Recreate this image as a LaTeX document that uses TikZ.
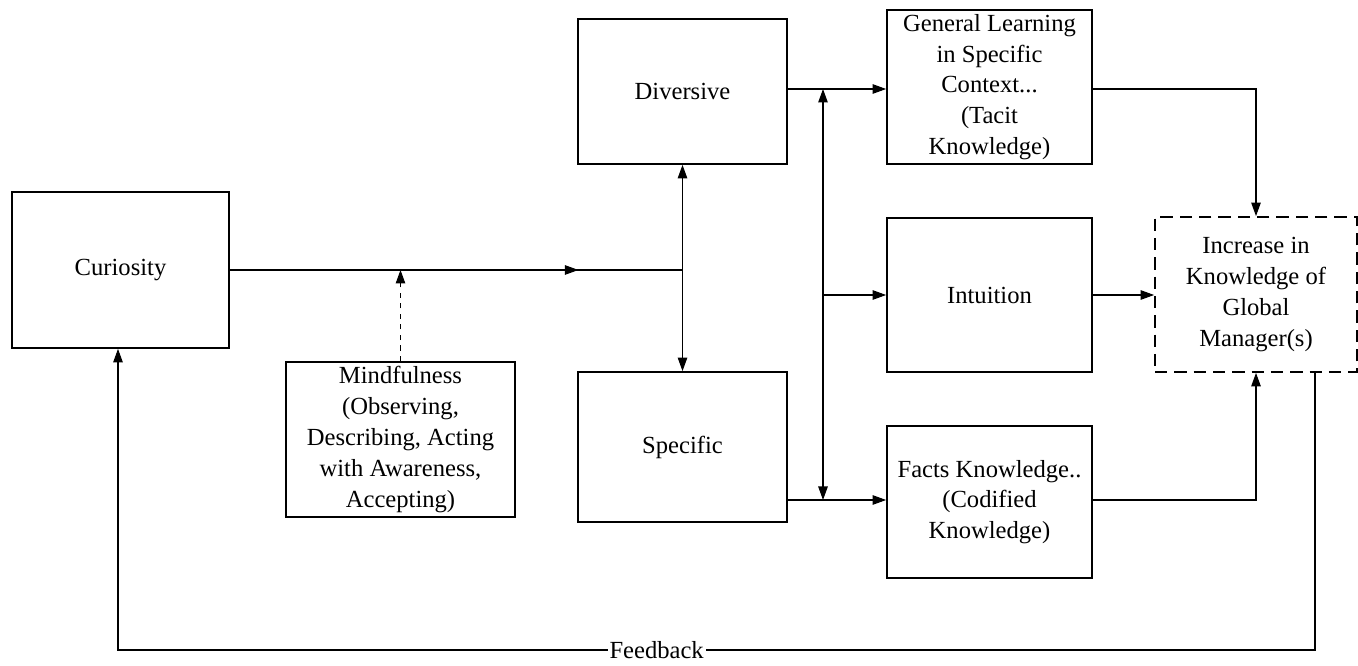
\documentclass[tikz,border=0pt]{standalone}
\usepackage{fontspec}
\setmainfont{Liberation Serif}
\usetikzlibrary{arrows.meta,positioning}

\begin{document}
\begin{tikzpicture}[
  every node/.style={font=\fontsize{14}{17.5}\selectfont},
  box/.style={draw, line width=1pt, minimum width=4.15cm, minimum height=3.05cm, align=center, inner sep=2pt},
  conn/.style={line width=0.6pt},
  tip/.style={-{Triangle[length=0.27cm,width=0.19cm]}}
]
  \useasboundingbox (0,0) rectangle (27.16,-13.32);
  % boxes
  \node[box, minimum width=4.34cm, minimum height=3.12cm] (curiosity) at (2.41,-5.4) {Curiosity};
  \node[box, minimum width=4.58cm, minimum height=3.1cm] (mindful) at (8.01,-8.79)
    {Mindfulness\\(Observing,\\Describing, Acting\\with Awareness,\\Accepting)};
  \node[box, minimum width=4.18cm, minimum height=2.9cm] (diversive) at (13.65,-1.83) {Diversive};
  \node[box, minimum width=4.18cm, minimum height=3.0cm] (specific) at (13.65,-8.94) {Specific};
  \node[box, minimum width=4.1cm, minimum height=3.08cm] (general) at (19.79,-1.74)
    {General Learning\\in Specific\\Context...\\(Tacit\\Knowledge)};
  \node[box, minimum width=4.1cm, minimum height=3.08cm] (intuition) at (19.79,-5.9) {Intuition};
  \node[box, minimum width=4.1cm, minimum height=3.04cm] (facts) at (19.79,-10.04)
    {Facts Knowledge..\\(Codified\\Knowledge)};
  \node[box, dashed, dash pattern=on 7pt off 4pt, minimum width=4.04cm, minimum height=3.1cm] (increase) at (25.12,-5.89)
    {Increase in\\Knowledge of\\Global\\Manager(s)};

  % curiosity to diversive / specific
  \coordinate (junc) at (diversive.south |- curiosity.east);
  \draw[conn] (curiosity.east) -- coordinate[pos=0.77] (mainarr) (junc);
  \draw[conn, tip] (curiosity.east) -- (mainarr);
  \draw[conn, {Triangle[length=0.27cm,width=0.19cm]}-{Triangle[length=0.27cm,width=0.19cm]}] (diversive.south) -- (specific.north);
  \draw[conn, dashed, tip] (mindful.north) -- (mindful.north |- curiosity.east);

  % middle bus
  \coordinate (bustop) at (16.46,-1.78);
  \coordinate (busbot) at (16.46,-10.0);
  \draw[conn, tip] (diversive.east |- bustop) -- (general.west |- bustop);
  \draw[conn, tip] (specific.east |- busbot) -- (facts.west |- busbot);
  \draw[conn, {Triangle[length=0.27cm,width=0.19cm]}-{Triangle[length=0.27cm,width=0.19cm]}] (busbot) -- (bustop);
  \draw[conn, tip] (bustop |- intuition.west) -- (intuition.west);

  % to increase in knowledge
  \draw[conn, tip] (general.east |- bustop) -| (increase.north);
  \draw[conn, tip] (intuition.east) -- (increase.west |- intuition.east);
  \draw[conn, tip] (facts.east |- busbot) -| (increase.south);

  % feedback
  \coordinate (fbstart) at ([xshift=1.18cm]increase.south);
  \coordinate (fbcorner) at (fbstart |- 0,-13.0);
  \coordinate (fbleft) at (2.36,-13.0);
  \draw[conn, tip] (fbstart) -- (fbcorner)
    -- node[pos=0.55, fill=white, inner sep=1pt] (feedback) {Feedback} (fbleft)
    -- (fbleft |- curiosity.south);
\end{tikzpicture}
\end{document}
